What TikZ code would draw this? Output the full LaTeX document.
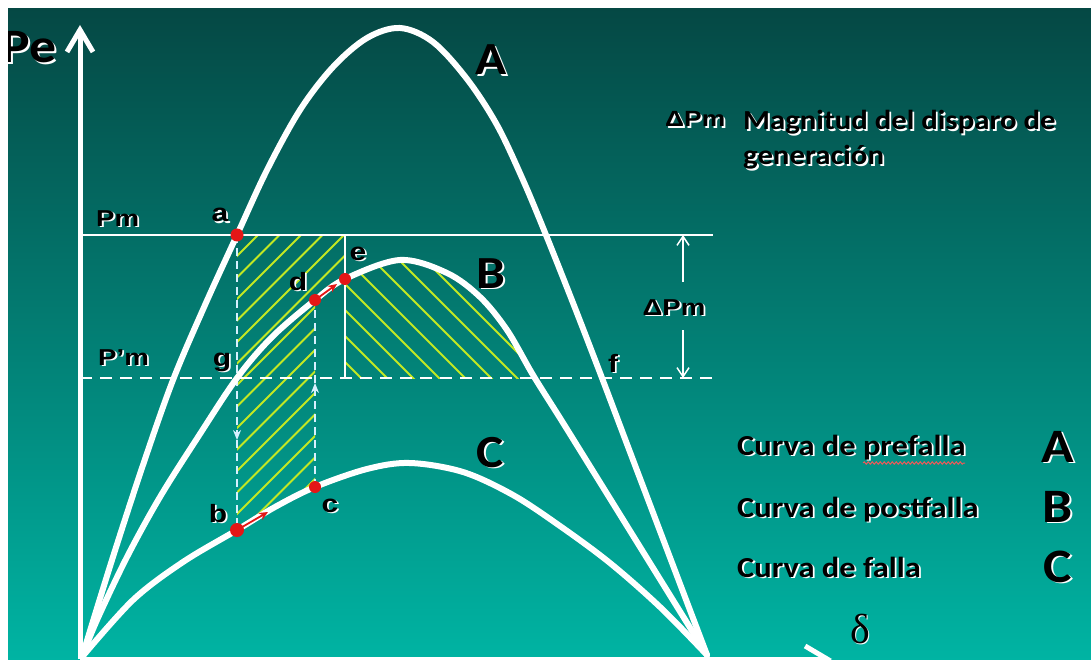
\documentclass[tikz,border=0pt]{standalone}
\usepackage{fontspec}
\usetikzlibrary{arrows.meta,decorations.pathmorphing}
\newfontfamily\cf{Carlito}[FakeStretch=1.12]
\newfontfamily\af{Liberation Sans}[FakeStretch=1.2]
\newfontfamily\gf{Liberation Serif}
\definecolor{bgtop}{RGB}{5,72,68}
\definecolor{bgbot}{RGB}{0,180,163}
\definecolor{hatchc}{RGB}{195,232,35}
\definecolor{dotred}{RGB}{228,22,22}
\definecolor{dashc}{RGB}{215,240,255}
\definecolor{squig}{RGB}{235,90,90}
\newcommand\fPe{\cf\bfseries\fontsize{48}{52}\selectfont}
\newcommand\fBig{\cf\bfseries\fontsize{46}{50}\selectfont}
\newcommand\fLeg{\cf\bfseries\fontsize{29}{33}\selectfont}
\newcommand\fLegL{\cf\bfseries\fontsize{48}{52}\selectfont}
\newcommand\fMag{\cf\bfseries\fontsize{27.5}{32}\selectfont}
\newcommand\fLab{\af\bfseries\fontsize{25}{29}\selectfont}
\newcommand\fPm{\af\bfseries\fontsize{23}{27}\selectfont}
\newcommand\fDpm{\af\bfseries\fontsize{22}{26}\selectfont}
\newcommand\fDel{\gf\fontsize{42}{46}\selectfont}
\newcommand\shtext[4]{%
  \node[#1,text=white] at ([shift={(1.8,1.8)}]#2) {#4};
  \node[#1,text=black] (#3) at (#2) {#4};}
\def\pathA{plot[smooth,tension=0.55] coordinates {(82,657) (112,560) (143,465) (173,380) (205,305) (237,235) (267,170) (300,110) (333,67) (367,38) (400,28) (433,42) (467,79) (497,125) (523,180) (546,235) (575,308) (602,378) (630,452) (707,655)}}
\def\pathB{plot[smooth,tension=0.55] coordinates {(82,657) (97,620) (127,557) (160,497) (198,437) (237,378) (272,337) (315,300) (345,279) (400,260) (447,273) (480,297) (507,330) (533,375) (560,418) (583,455) (645,555) (707,655)}}
\def\pathC{plot[smooth,tension=0.55] coordinates {(82,657) (133,600) (183,562) (237,530) (275,507) (315,487) (367,469) (410,463) (463,472) (513,495) (560,526) (610,563) (660,607) (707,655)}}
\begin{document}
\begin{tikzpicture}[x=1pt,y=-1pt,
  lbl/.style={inner sep=0pt},
  curve/.style={white,line width=6,line cap=round},
  axisln/.style={white,line width=5},
  hatch/.style={hatchc,line width=1.8},
  dline/.style={dashc,line width=1.5,dash pattern=on 8 off 5},
  thinarrow/.style={white,line width=1.5,-{Straight Barb[length=9,width=12]}},
  reddot/.style={fill=dotred}]
\useasboundingbox (0,0) rectangle (1091,660);
\fill[white] (0,0) rectangle (1091,660);
\fill[top color=bgtop,bottom color=bgbot] (8,8) rectangle (1091,660);

% named points
\coordinate (O) at (80,659);
\coordinate (ytop) at (80,25);
\coordinate (xend) at (832,659);
\coordinate (a) at (237,235);
\coordinate (b) at (237,530);
\coordinate (c) at (315,487);
\coordinate (d) at (315,300);
\coordinate (e) at (345,279);
\coordinate (g) at (237,378);
\coordinate (pmL) at (80,235);
\coordinate (pmR) at (713,235);
\coordinate (ppL) at (80,378);
\coordinate (ppR) at (713,378);
\coordinate (eTop) at (345,235);
\coordinate (eBot) at (345,378);
\coordinate (arrDown) at (237,440);
\coordinate (arrUp) at (315,383);
\coordinate (dpTop) at (683,235);
\coordinate (dpBot) at (683,378);
\coordinate (dpTopEnd) at (683,282);
\coordinate (dpBotEnd) at (683,330);
\coordinate (bArr) at (268,512);
\coordinate (dArr) at (337,284);

% hatching: accelerating area
\begin{scope}
  \clip (237,235) rectangle (315,660);
  \clip \pathC -- (707,0) -- (82,0) -- cycle;
  \foreach \k in {-18,...,8} {\draw[hatch] ({344-21.5*\k-400},635) -- ++(500,-500);}
\end{scope}
\begin{scope}
  \clip (315,235) rectangle (345,660);
  \clip \pathB -- (707,0) -- (82,0) -- cycle;
  \foreach \k in {-18,...,8} {\draw[hatch] ({344-21.5*\k-400},635) -- ++(500,-500);}
\end{scope}
% hatching: decelerating area
\begin{scope}
  \clip (345,235) rectangle (713,378);
  \clip \pathB -- cycle;
  \foreach \k in {-6,...,12} {\draw[hatch] ({517-26*\k-300},78) -- ++(400,400);}
\end{scope}

% Pm and P'm lines
\draw[white,line width=1.8] (pmL) -- (pmR);
\draw[white,line width=1.8,dash pattern=on 12 off 8] (ppL) -- (ppR);
\draw[white,line width=1.5] (eTop) -- (eBot);

% vertical dashed transitions
\draw[dline,-{Stealth[length=10,width=8]}] (a) -- (arrDown);
\draw[dline] (arrDown) -- (b);
\draw[dline,-{Stealth[length=10,width=8]}] (c) -- (arrUp);
\draw[dline] (arrUp) -- (d);

% Delta Pm arrows
\draw[thinarrow] (dpTopEnd) -- (dpTop);
\draw[thinarrow] (dpBotEnd) -- (dpBot);

% curves
\draw[curve] \pathA;
\draw[curve] \pathB;
\draw[curve] \pathC;

% axes
\draw[axisln,-{Straight Barb[length=22,width=26]}] (O) -- (ytop);
\draw[axisln,-{Straight Barb[length=22,width=26]}] (O) -- (xend);

% red trajectory arrows and dots
\draw[dotred,line width=1.8,-{Stealth[length=9,width=8]}] (b) -- (bArr);
\draw[dotred,line width=1.8,-{Stealth[length=9,width=8]}] (d) -- (dArr);
\fill[reddot] (a) circle (6.5);
\fill[reddot] (b) circle (7);
\fill[reddot] (c) circle (6);
\fill[reddot] (d) circle (6);
\fill[reddot] (e) circle (6);

% labels
\shtext{lbl,font=\fPe,anchor=base east}{57,63}{tPe}{Pe}
\shtext{lbl,font=\fPm,anchor=base west}{96,226}{tPm}{Pm}
\shtext{lbl,font=\fPm,anchor=base west}{98,365}{tPpm}{P’m}
\shtext{lbl,font=\fLab,anchor=base}{220,222}{ta}{a}
\shtext{lbl,font=\fLab,anchor=base}{358,260}{te}{e}
\shtext{lbl,font=\fLab,anchor=base}{298,290}{td}{d}
\shtext{lbl,font=\fLab,anchor=base}{222,366}{tg}{g}
\shtext{lbl,font=\fLab,anchor=base}{218,522}{tb}{b}
\shtext{lbl,font=\fLab,anchor=base}{330,512}{tc}{c}
\shtext{lbl,font=\fLab,anchor=base}{613,372}{tf}{f}
\shtext{lbl,font=\fPm,anchor=base}{674,315}{tdpm}{ΔPm}
\shtext{lbl,font=\fBig,anchor=base}{491,75}{tA}{A}
\shtext{lbl,font=\fBig,anchor=base}{491,288}{tB}{B}
\shtext{lbl,font=\fBig,anchor=base}{490,467}{tC}{C}
\shtext{lbl,font=\fDpm,anchor=base west}{665,127}{tdpm2}{ΔPm}
\shtext{lbl,font=\fMag,anchor=base west}{743,130}{tmag1}{Magnitud del disparo de}
\shtext{lbl,font=\fMag,anchor=base west}{743,165}{tmag2}{generación}
\shtext{lbl,font=\fLeg,anchor=base west}{737,455}{tleg1}{Curva de prefalla}
\shtext{lbl,font=\fLeg,anchor=base west}{737,517}{tleg2}{Curva de postfalla}
\shtext{lbl,font=\fLeg,anchor=base west}{737,577}{tleg3}{Curva de falla}
\shtext{lbl,font=\fLegL,anchor=base}{1058,462}{tlA}{A}
\shtext{lbl,font=\fLegL,anchor=base}{1058,522}{tlB}{B}
\shtext{lbl,font=\fLegL,anchor=base}{1058,582}{tlC}{C}
\shtext{lbl,font=\fDel,anchor=base}{860,643}{tdelta}{δ}
\draw[squig,line width=1,decorate,decoration={snake,amplitude=1.2,segment length=4}] (863,463) -- (965,463);

% white margins
\fill[white] (0,0) rectangle (1091,8);
\fill[white] (0,0) rectangle (8,660);
\end{tikzpicture}
\end{document}
